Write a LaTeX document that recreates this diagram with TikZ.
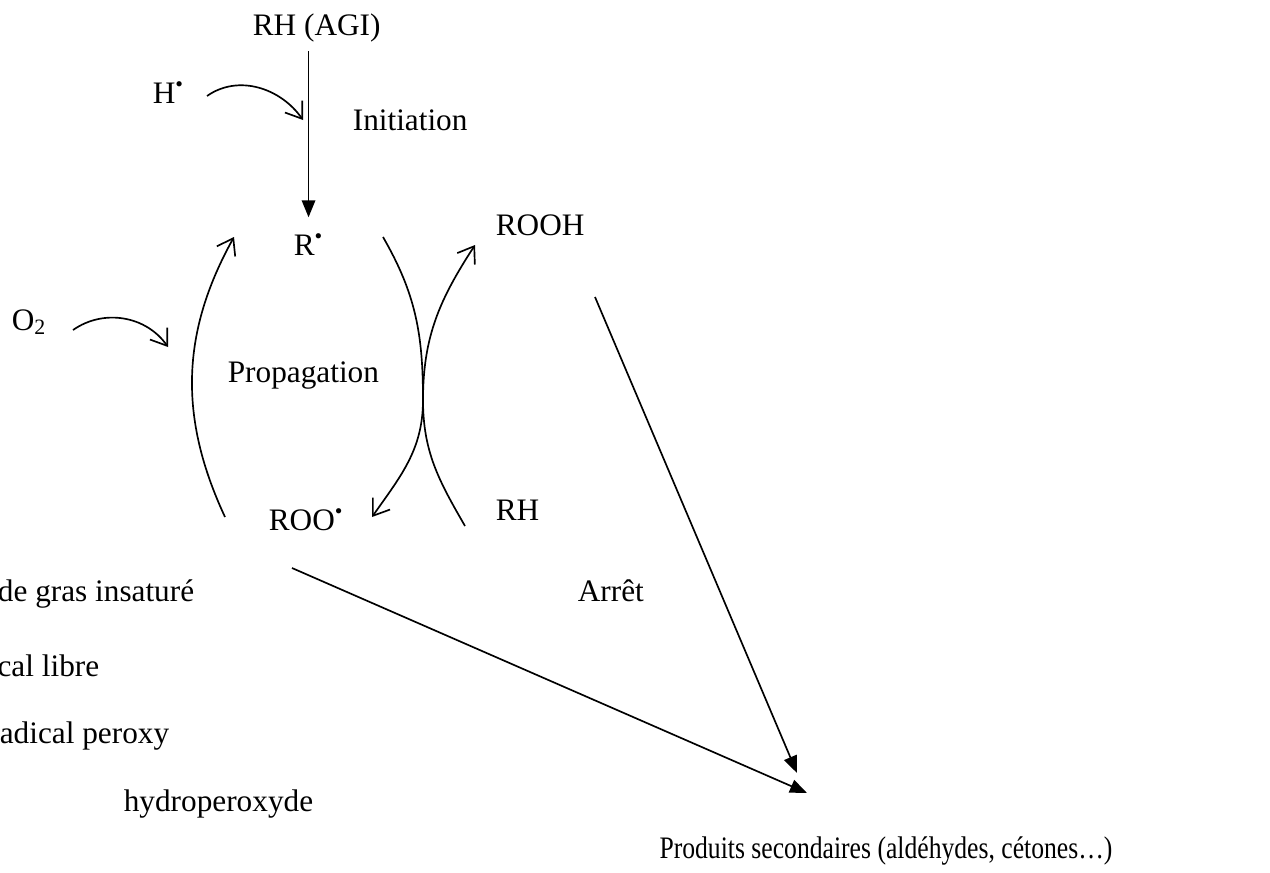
\documentclass[tikz,border=0pt]{standalone}
\usepackage{fontspec}
\setmainfont{Liberation Serif}
\usetikzlibrary{arrows.meta}

\newcommand{\rad}{\textsuperscript{\textbullet}}

\begin{document}
\begin{tikzpicture}[x=0.02cm, y=0.02cm, line width=0.95pt,
    every node/.style={font=\fontsize{17.8}{21}\selectfont, inner sep=0pt},
    barb/.style={-{Straight Barb[length=0.3cm, width=0.42cm]}},
    barbs/.style={{Straight Barb[length=0.3cm, width=0.42cm]}-{Straight Barb[length=0.3cm, width=0.42cm]}},
    head/.style={-{Triangle[length=0.34cm, width=0.27cm]}}]
    \useasboundingbox (0,0) rectangle (1270,-872);

    % species and steps
    \node[anchor=base west] (rh) at (252,-35) {RH (AGI)};
    \node[anchor=base west] (hdot) at (152,-103) {H\rad};
    \node[anchor=base west] (init) at (352,-130) {Initiation};
    \node[anchor=base west] (rdot) at (293,-255) {R\rad};
    \node[anchor=base west] (rooh) at (495,-235) {ROOH};
    \node[anchor=base west] (otwo) at (11,-330) {O\textsubscript{2}};
    \node[anchor=base west] (prop) at (227,-382) {Propagation};
    \node[anchor=base west] (roo) at (268,-530) {ROO\rad};
    \node[anchor=base west] (rhb) at (495,-520) {RH};
    \node[anchor=base west] (arret) at (577,-601) {Arrêt};
    \node[anchor=base, xscale=0.82] (prod) at (886,-858)
        {Produits secondaires (aldéhydes, cétones…)};

    % legend
    \node[anchor=base east] (lgrh) at (195,-601) {de gras insaturé};
    \node[anchor=base east] (lgr) at (100,-676) {cal libre};
    \node[anchor=base east] (lgroo) at (170,-743) {adical peroxy};
    \node[anchor=base west] (lgrooh) at (123,-811) {hydroperoxyde};

    % free ends of the curved arrows
    \coordinate (hin) at (207,-96);
    \coordinate (oin) at (73,-330);
    \coordinate (mid) at (423,-400);
    \coordinate (rooA) at (225,-517);
    \coordinate (rA) at (234,-237);
    \coordinate (rB) at (383,-237);
    \coordinate (rhB) at (465,-526);
    \coordinate (roohA) at (475,-245);
    \coordinate (rooB) at (372,-517);
    \coordinate (sinkA) at (807,-793);
    \coordinate (sinkB) at (797,-773);

    % initiation
    \draw[head, shorten <=0.18cm, shorten >=0.32cm] (rh.south -| rdot.north) -- (rdot.north);
    \draw[barb] (hin) to[out=35, in=125] (303,-120);

    % propagation cycle
    \draw[barb] (oin) to[out=35, in=125] (168,-347);
    \draw[barb] (rooA) to[out=115, in=-119] (rA);
    \draw (rB) to[out=-60, in=90] (mid) to[out=-90, in=120] (rhB);
    \draw[barbs] (rooB) to[out=55, in=-90] (mid) to[out=90, in=-123] (roohA);

    % termination
    \draw[head] (292,-568) -- (sinkA);
    \draw[head] (595,-297) -- (sinkB);
\end{tikzpicture}
\end{document}
